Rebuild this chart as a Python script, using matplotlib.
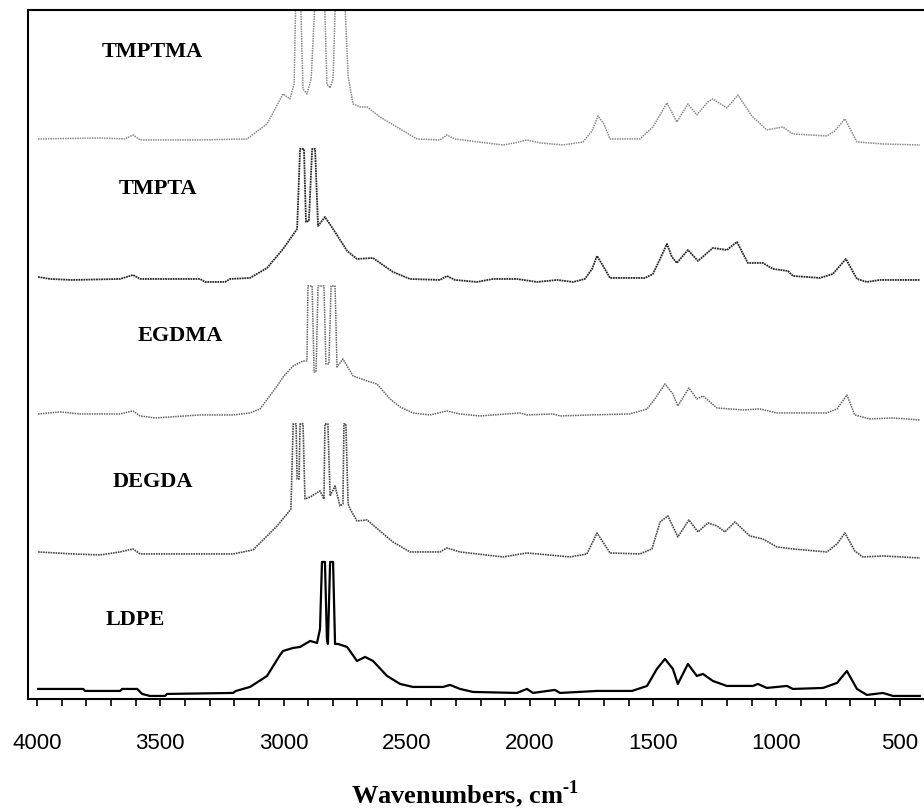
import matplotlib
matplotlib.use("Agg")
import matplotlib.pyplot as plt

plt.rcParams['mathtext.fontset'] = 'custom'
plt.rcParams['mathtext.rm'] = 'Liberation Serif:bold'
plt.rcParams['mathtext.bf'] = 'Liberation Serif:bold'

### spectra (wavenumber, stacked absorbance a.u.)
tmptma_wn = [3996, 3744, 3643, 3611, 3582, 3339, 3148, 3067, 3002, 2974, 2957, 2949, 2933,
             2921, 2905, 2888, 2868, 2836, 2824, 2811, 2799, 2787, 2755, 2738, 2718, 2690,
             2661, 2609, 2527, 2458, 2365, 2337, 2304, 2243, 2110, 2061, 2012, 1959, 1866,
             1785, 1748, 1724, 1700, 1675, 1554, 1501, 1444, 1404, 1359, 1323, 1278, 1258,
             1201, 1156, 1100, 1039, 974, 933, 795, 763, 722, 673, 568, 418]
tmptma_ab = [5.60, 5.61, 5.60, 5.64, 5.59, 5.59, 5.60, 5.75, 6.05, 6.00, 6.15, 7.20, 7.20,
             6.10, 6.05, 6.20, 7.20, 7.20, 6.15, 6.11, 6.20, 7.20, 7.20, 6.23, 5.95, 5.92,
             5.92, 5.82, 5.70, 5.60, 5.59, 5.64, 5.60, 5.58, 5.54, 5.56, 5.59, 5.56, 5.54,
             5.57, 5.68, 5.83, 5.75, 5.60, 5.60, 5.72, 5.96, 5.77, 5.95, 5.84, 5.97, 6.00,
             5.91, 6.04, 5.83, 5.69, 5.72, 5.65, 5.63, 5.68, 5.80, 5.57, 5.55, 5.54]

tmpta_wn = [3996, 3947, 3858, 3663, 3611, 3582, 3339, 3318, 3237, 3217, 3136, 3067, 3002,
            2945, 2933, 2917, 2909, 2897, 2884, 2872, 2860, 2832, 2799, 2742, 2702, 2637,
            2556, 2487, 2365, 2337, 2304, 2215, 2150, 2053, 1972, 1890, 1825, 1777, 1748,
            1728, 1708, 1675, 1533, 1501, 1472, 1444, 1424, 1404, 1359, 1318, 1258, 1201,
            1160, 1116, 1055, 1014, 953, 933, 823, 771, 718, 673, 633, 580, 418]
tmpta_ab = [4.22, 4.20, 4.19, 4.20, 4.24, 4.20, 4.20, 4.17, 4.17, 4.20, 4.21, 4.31, 4.50,
            4.70, 5.50, 5.50, 4.77, 4.78, 5.50, 5.50, 4.73, 4.82, 4.70, 4.48, 4.40, 4.41,
            4.27, 4.20, 4.19, 4.23, 4.19, 4.17, 4.20, 4.20, 4.17, 4.19, 4.17, 4.20, 4.30,
            4.43, 4.35, 4.21, 4.21, 4.25, 4.40, 4.55, 4.42, 4.36, 4.49, 4.38, 4.51, 4.49,
            4.57, 4.36, 4.36, 4.30, 4.28, 4.23, 4.21, 4.25, 4.40, 4.20, 4.17, 4.19, 4.19]

egdma_wn = [3996, 3907, 3826, 3663, 3611, 3582, 3521, 3339, 3205, 3136, 3095, 3026, 3002,
            2961, 2921, 2905, 2901, 2884, 2876, 2868, 2860, 2836, 2828, 2816, 2807, 2791,
            2783, 2759, 2718, 2661, 2621, 2568, 2527, 2475, 2406, 2337, 2284, 2203, 2041,
            2012, 1907, 1878, 1757, 1594, 1525, 1493, 1452, 1420, 1400, 1355, 1323, 1298,
            1241, 1136, 1067, 998, 795, 754, 714, 682, 621, 527, 418]
egdma_ab = [2.85, 2.87, 2.85, 2.85, 2.88, 2.83, 2.81, 2.84, 2.84, 2.86, 2.90, 3.13, 3.22,
            3.33, 3.38, 3.38, 4.13, 4.13, 3.27, 3.27, 4.13, 4.13, 3.35, 3.35, 4.13, 4.13,
            3.32, 3.40, 3.23, 3.18, 3.15, 3.00, 2.92, 2.86, 2.84, 2.88, 2.85, 2.83, 2.86,
            2.84, 2.85, 2.83, 2.84, 2.85, 2.90, 3.00, 3.15, 3.05, 2.93, 3.11, 3.00, 3.03,
            2.91, 2.89, 2.90, 2.86, 2.86, 2.90, 3.04, 2.84, 2.80, 2.81, 2.79]

degda_wn = [3996, 3854, 3744, 3663, 3611, 3582, 3205, 3124, 3067, 3026, 2986, 2970, 2961,
            2949, 2945, 2937, 2933, 2921, 2913, 2892, 2872, 2852, 2836, 2832, 2820, 2811,
            2791, 2771, 2759, 2755, 2747, 2738, 2730, 2702, 2661, 2609, 2556, 2487, 2365,
            2337, 2284, 2110, 2012, 1838, 1769, 1728, 1675, 1554, 1505, 1472, 1440, 1400,
            1355, 1318, 1278, 1241, 1209, 1168, 1108, 1055, 998, 933, 795, 754, 722, 682,
            649, 568, 418]
degda_ab = [1.47, 1.45, 1.44, 1.47, 1.50, 1.45, 1.45, 1.49, 1.63, 1.73, 1.85, 1.90, 2.75,
            2.75, 2.20, 2.20, 2.75, 2.75, 2.00, 2.02, 2.05, 2.08, 2.00, 2.75, 2.75, 2.03,
            2.13, 1.93, 1.95, 2.75, 2.75, 1.95, 1.90, 1.78, 1.79, 1.68, 1.57, 1.47, 1.47,
            1.51, 1.47, 1.42, 1.46, 1.42, 1.45, 1.66, 1.46, 1.45, 1.50, 1.77, 1.83, 1.62,
            1.79, 1.67, 1.76, 1.73, 1.67, 1.77, 1.63, 1.60, 1.52, 1.50, 1.47, 1.55, 1.66,
            1.48, 1.42, 1.43, 1.41]

ldpe_wn = [3996, 3813, 3805, 3663, 3655, 3594, 3574, 3542, 3481, 3473, 3205, 3193, 3136,
           3067, 3014, 3002, 2961, 2933, 2892, 2864, 2852, 2844, 2832, 2824, 2820, 2811,
           2799, 2791, 2779, 2742, 2702, 2669, 2637, 2580, 2527, 2475, 2353, 2324, 2284,
           2231, 2053, 2012, 1988, 1899, 1878, 1728, 1586, 1525, 1485, 1452, 1420, 1400,
           1359, 1323, 1298, 1258, 1201, 1095, 1075, 1039, 957, 933, 811, 754, 714, 673,
           633, 568, 527, 418]
ldpe_ab = [0.10, 0.10, 0.08, 0.08, 0.10, 0.10, 0.05, 0.03, 0.03, 0.05, 0.06, 0.08, 0.12,
           0.23, 0.44, 0.48, 0.51, 0.52, 0.58, 0.56, 0.70, 1.37, 1.37, 0.60, 0.55, 1.37,
           1.37, 0.55, 0.55, 0.52, 0.38, 0.42, 0.38, 0.23, 0.15, 0.12, 0.12, 0.14, 0.10,
           0.07, 0.06, 0.10, 0.06, 0.09, 0.06, 0.08, 0.08, 0.13, 0.30, 0.40, 0.30, 0.15,
           0.35, 0.23, 0.25, 0.18, 0.13, 0.13, 0.15, 0.11, 0.13, 0.10, 0.11, 0.16, 0.28,
           0.10, 0.04, 0.06, 0.03, 0.03]

names = ['TMPTMA', 'TMPTA', 'EGDMA', 'DEGDA', 'LDPE']
label_pos = [(3533, 6.48), (3509, 5.11), (3420, 3.64), (3529, 2.18), (3602, 0.80)]
colors = ['#8a8a8a', '#2a2a2a', '#666666', '#4a4a4a', 'black']
styles = [(0, (1, 0.6)), (0, (1, 0.4)), (0, (1, 0.6)), (0, (1, 0.5)), '-']
widths = [1.1, 1.3, 1.1, 1.2, 1.6]

### figure
fig = plt.figure(figsize=(9.24, 8.12), dpi=100)
ax = fig.add_axes([0.0303, 0.138, 0.9697, 0.8485])

spectra = [(tmptma_wn, tmptma_ab), (tmpta_wn, tmpta_ab), (egdma_wn, egdma_ab),
           (degda_wn, degda_ab), (ldpe_wn, ldpe_ab)]
for (wn, ab), c, ls, lw in zip(spectra, colors, styles, widths):
    ax.plot(wn, ab, color=c, linestyle=ls, linewidth=lw)

for name, (lx, ly) in zip(names, label_pos):
    ax.text(lx, ly, name, ha='center', va='center', fontsize=16,
            fontweight='bold', family='Liberation Serif')

ax.set_xlim(4037, 401)
ax.set_ylim(0, 6.89)
ax.set_yticks([])
ax.spines['right'].set_visible(False)
for s in ['top', 'left', 'bottom']:
    ax.spines[s].set_linewidth(1.5)

ax.set_xticks([4000, 3500, 3000, 2500, 2000, 1500, 1000, 500])
ax.set_xticks(range(500, 4001, 100), minor=True)
ax.tick_params(axis='x', which='both', direction='out', length=5, width=1.2, pad=19)
for lab in ax.get_xticklabels():
    lab.set_family('Liberation Sans')
    lab.set_fontsize(16)

fig.text(0.503, 0.003, 'Wavenumbers, cm$^{\\text{-1}}$', ha='center', va='bottom',
         fontsize=19, fontweight='bold', family='Liberation Serif')

fig.savefig('out.png', dpi=100)
